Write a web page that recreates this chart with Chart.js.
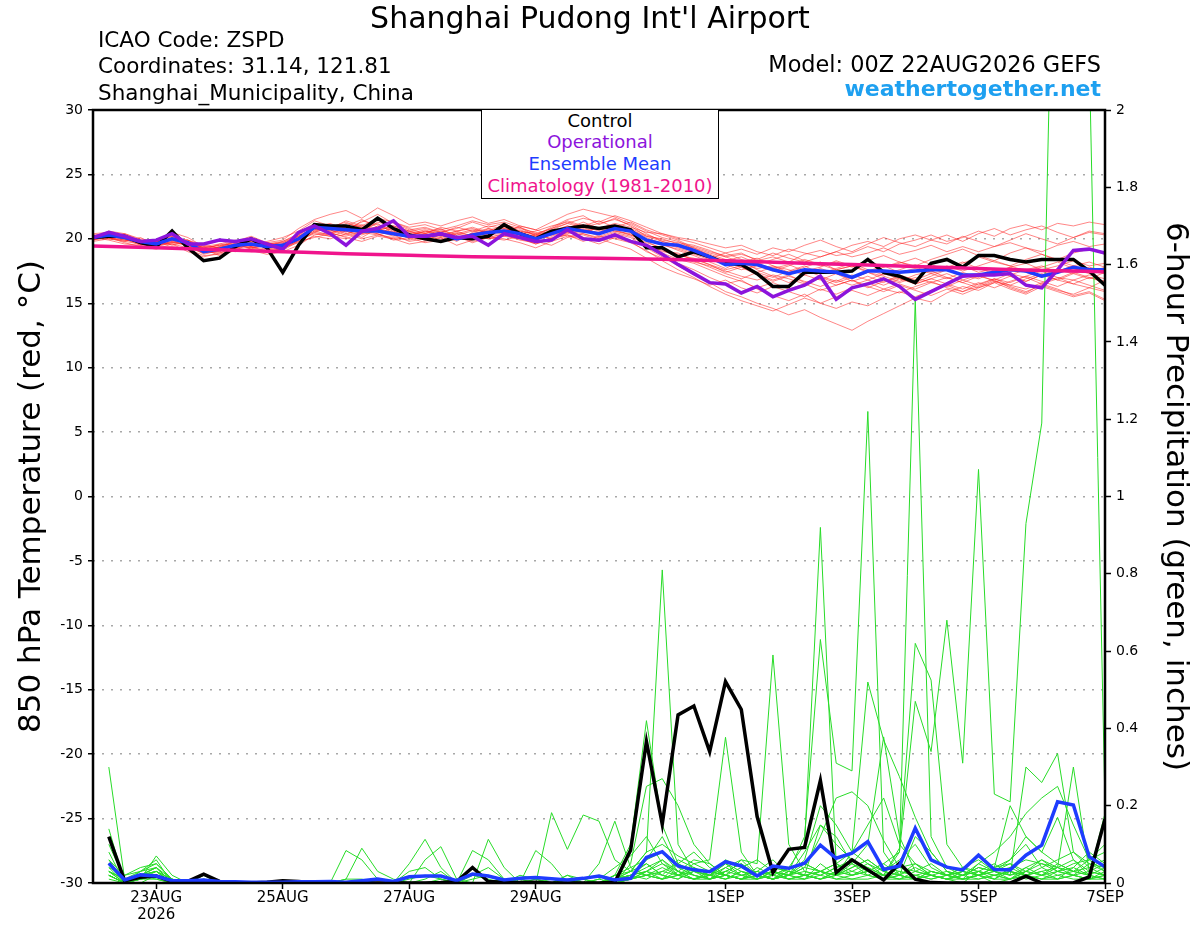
<!DOCTYPE html>
<html>
<head>
<meta charset="utf-8">
<script src="https://cdn.jsdelivr.net/npm/chart.js@4/dist/chart.umd.min.js"></script>
<style>
  html, body { margin: 0; padding: 0; background: #fff; overflow: hidden; }
  #wrap { position: relative; width: 1200px; height: 927px; font-family: 'DejaVu Sans', sans-serif; }
  #chart { position: absolute; left: 0; top: 0; }
  .txt { position: absolute; line-height: 1; white-space: nowrap; color: #000; }
  #legendBox {
    position: absolute; left: 481px; top: 108.5px; width: 238px; height: 90px;
    box-sizing: border-box; border: 1.5px solid #000; background: #fff;
    text-align: center; font-size: 18px; line-height: 21.9px;
  }
</style>
</head>
<body>
<div id="wrap">
  <canvas id="chart" width="1200" height="927"></canvas>
  <div class="txt" style="left:590px; top:3px; font-size:30px; transform:translateX(-50%);">Shanghai Pudong Int'l Airport</div>
  <div class="txt" style="left:98px; top:28.5px; font-size:21.5px;">ICAO Code: ZSPD</div>
  <div class="txt" style="left:98px; top:55px; font-size:21.5px;">Coordinates: 31.14, 121.81</div>
  <div class="txt" style="left:98px; top:82px; font-size:21.5px;">Shanghai_Municipality, China</div>
  <div class="txt" style="right:99px; top:52.5px; font-size:22.4px;">Model: 00Z 22AUG2026 GEFS</div>
  <div class="txt" style="right:99px; top:77.5px; font-size:22px; font-weight:bold; color:#1ea0f0;">weathertogether.net</div>
  <div id="legendBox">
    <div style="color:#000">Control</div>
    <div style="color:#8c14dc">Operational</div>
    <div style="color:#1e3cff">Ensemble Mean</div>
    <div style="color:#f0148c">Climatology (1981-2010)</div>
  </div>
</div>
<script>
// forecast hours from 00Z 22AUG2026
const fcstHours = [0,6,12,18,24,30,36,42,48,54,60,66,72,78,84,90,96,102,108,114,120,126,132,138,144,150,156,162,168,174,180,186,192,198,204,210,216,222,228,234,240,246,252,258,264,270,276,282,288,294,300,306,312,318,324,330,336,342,348,354,360,366,372,378,384];
const precipHours = fcstHours.slice(1);
const climHours = [0,24,48,72,96,120,144,168,192,216,240,264,288,312,336,360,384];

const tickHours = [24,72,120,168,240,288,336,384];
const tickLabels = [['23AUG','2026'],'25AUG','27AUG','29AUG','1SEP','3SEP','5SEP','7SEP'];
const tempTicks = [-30,-25,-20,-15,-10,-5,0,5,10,15,20,25,30];
const precipTicks = [0,0.2,0.4,0.6,0.8,1,1.2,1.4,1.6,1.8,2];

// 850 hPa temperature (C)
const control850 = [20.1,20.2,20.2,19.7,19.4,20.6,19.3,18.3,18.5,19.4,20.0,19.3,17.4,19.5,21.1,21.0,21.0,20.7,21.6,20.8,20.3,20.0,19.8,20.1,20.0,20.2,21.1,20.4,20.0,20.6,20.8,21.0,20.8,21.0,20.7,19.3,19.3,18.6,19.0,18.6,18.1,18.0,17.3,16.3,16.3,17.4,17.4,17.4,17.5,18.4,17.4,17.1,16.6,18.1,18.4,17.8,18.7,18.7,18.4,18.2,18.4,18.4,18.4,17.5,16.4];
const operational850 = [20.1,20.5,20.2,19.8,19.9,20.4,19.6,19.6,19.9,19.8,20.0,19.6,19.2,20.5,21.0,20.4,19.5,20.6,20.8,21.4,20.2,20.2,20.4,20.1,20.2,19.5,20.4,20.1,19.8,19.9,20.7,20.0,19.9,20.3,19.8,19.5,18.8,18.0,17.3,16.6,16.5,15.8,16.3,15.5,16.0,16.4,17.1,15.3,16.2,16.5,16.9,16.3,15.3,15.9,16.5,17.1,17.2,17.2,17.3,16.4,16.2,17.6,19.1,19.2,18.9];
const ensMean850 = [20.1,20.3,20.1,19.8,19.6,20.0,19.7,19.0,19.2,19.5,19.6,19.4,19.5,20.0,20.9,20.8,20.7,20.6,20.6,20.4,20.2,20.2,20.4,20.0,20.3,20.5,20.6,20.4,20.0,20.4,20.8,20.6,20.4,20.8,20.6,19.9,19.6,19.5,19.1,18.6,18.0,18.1,18.0,17.6,17.3,17.6,17.5,17.4,17.0,17.5,17.5,17.4,17.5,17.6,17.6,17.2,17.2,17.4,17.6,17.5,17.1,17.4,17.8,17.6,17.6];
const climatology850 = [19.45,19.3,19.15,19.0,18.85,18.72,18.6,18.55,18.5,18.42,18.3,18.15,18.0,17.85,17.7,17.55,17.45];

const members850 = [
  [20.2,20.5,20.0,19.6,19.9,20.3,19.5,19.1,19.6,19.9,19.4,19.8,20.1, 20.6,21.4,21.0,20.8,21.3,21.9,21.2,20.7,20.9,20.5,20.8,21.3,20.9, 21.2,20.6,20.3,20.9,21.5,21.8,21.1,21.6,21.0,20.2,20.0,19.6,19.4, 19.0,18.7,18.9,18.3,18.6,18.2,18.8,19.1,18.7,18.9,19.4,19.0,19.6, 19.9,20.3,19.8,20.1,20.6,20.2,20.8,21.1,20.7,21.2,21.0,21.3,21.1],
  [20.0,20.1,19.7,19.4,19.2,19.6,19.0,18.6,18.9,19.3,19.1,18.8,19.0, 19.5,20.3,20.5,20.1,19.8,20.2,20.0,19.6,19.8,20.1,19.5,19.9,20.2, 20.0,19.7,19.3,19.8,20.2,20.0,19.6,20.1,19.8,19.0,18.5,18.1,17.6, 17.0,16.5,16.8,16.1,15.6,15.2,15.7,15.0,14.6,15.1,14.8,15.4,15.9, 15.5,16.0,16.4,15.9,16.3,16.8,16.2,15.8,16.5,16.1,15.6,15.9,15.3],
  [20.3,20.0,19.8,20.1,19.5,19.8,19.9,19.2,18.7,19.1,19.7,19.3,19.1, 19.8,20.5,20.2,20.6,20.1,20.8,20.3,19.8,20.0,20.6,20.2,19.7,20.1, 20.4,20.1,19.6,20.0,20.5,20.3,19.9,20.4,20.1,19.3,18.6,17.9,17.2, 16.6,15.9,15.5,15.0,14.6,14.1,14.5,13.9,13.4,12.9,13.6,14.2,14.8, 15.4,15.1,15.8,16.3,16.0,16.6,17.1,16.7,17.2,17.6,17.3,17.8,17.5],
  [20.1,20.6,20.4,19.9,19.7,20.5,20.1,19.4,19.3,19.8,20.2,19.7,19.9, 20.8,21.5,21.9,22.2,21.6,22.4,21.8,21.1,21.3,21.0,21.4,21.7,21.2, 21.5,21.0,20.7,21.3,21.9,22.3,22.0,21.7,21.2,20.6,20.1,19.8,19.2, 18.8,18.4,18.1,17.7,17.9,17.4,17.8,18.2,17.6,17.9,18.3,17.8,18.1, 18.5,18.0,17.6,18.1,18.6,18.2,17.9,18.4,18.8,18.3,17.9,18.2,17.8],
  [19.9,20.2,20.3,19.7,19.8,19.9,19.4,18.9,19.0,19.6,19.4,19.2,19.6, 20.2,20.7,20.6,21.2,20.9,20.5,20.8,20.4,20.1,20.3,19.8,20.5,20.8, 20.6,20.9,20.2,20.7,21.2,20.8,20.4,21.0,20.8,20.3,19.9,19.7,19.5, 19.1,18.6,18.2,18.5,17.9,17.6,17.2,17.7,17.3,16.9,17.4,17.1,16.7, 17.2,17.5,17.0,16.6,17.1,16.8,17.3,17.0,16.5,16.9,17.4,17.0,16.7],
  [20.0,20.4,20.2,19.8,19.4,20.1,19.8,19.3,19.5,19.2,19.8,19.5,19.3, 20.1,20.9,21.2,20.7,20.4,21.0,20.6,20.0,20.4,20.7,20.3,20.6,21.0, 20.8,20.5,20.1,20.6,20.9,21.1,20.7,20.9,21.3,20.7,20.3,19.9,19.3, 18.7,18.1,17.8,17.3,16.8,17.2,16.6,16.9,16.4,16.8,16.2,16.7,17.0, 16.5,16.9,17.3,16.8,16.4,16.9,16.6,17.1,17.5,17.0,16.8,17.2,16.9],
  [20.2,20.3,19.9,19.9,19.6,19.7,19.6,19.0,19.4,19.7,19.5,19.6,19.8, 20.4,21.0,20.6,20.9,21.1,20.8,20.5,20.6,20.2,20.0,20.4,20.7,20.5, 20.9,20.3,20.0,20.5,21.0,20.6,20.8,21.2,20.9,20.5,20.4,20.1,19.9, 19.6,19.3,19.5,19.0,18.7,19.2,18.9,18.6,19.0,19.5,19.8,19.4,20.0, 20.3,19.9,19.6,20.2,19.8,19.4,19.9,20.4,20.0,19.6,20.1,20.5,20.3],
  [20.1,19.9,19.6,19.5,19.3,19.4,19.2,18.7,18.8,19.2,19.0,19.1,19.4, 19.8,20.1,20.4,20.2,20.6,20.4,19.9,20.1,19.7,19.9,20.2,19.8,20.1, 19.9,20.2,19.8,19.5,20.1,20.4,20.0,19.6,19.2,18.5,17.8,17.3,16.9, 16.4,16.8,16.2,15.8,16.3,15.9,15.5,16.1,15.7,16.2,16.6,16.1,15.8, 16.3,16.7,16.2,15.9,16.5,16.9,16.4,16.1,16.6,17.0,16.5,16.2,16.8],
  [20.4,20.5,20.2,19.6,19.9,20.2,19.7,19.3,19.1,19.4,19.9,19.6,19.7, 20.3,20.8,21.1,20.5,21.4,21.1,20.7,20.3,20.5,20.8,20.1,20.4,20.6, 21.1,20.8,20.5,20.2,20.6,21.0,21.4,20.9,20.6,19.8,19.2,18.8,18.4, 18.0,17.6,17.9,17.4,17.0,17.5,17.9,17.3,17.7,18.1,17.6,17.2,17.6, 18.0,17.5,17.8,18.2,17.7,17.3,17.8,18.1,17.6,17.9,18.3,17.9,18.1],
  [19.8,20.0,20.1,19.6,19.5,19.8,19.5,18.8,19.1,19.5,19.3,19.1,19.2, 19.9,20.6,20.3,20.9,20.4,20.7,20.9,20.5,20.3,20.1,20.5,20.2,20.4, 20.2,20.6,20.4,20.0,20.4,20.7,20.2,20.6,20.4,19.6,19.0,18.9,18.3, 17.8,17.3,16.9,17.4,17.8,17.3,17.6,17.1,16.7,17.2,16.8,16.4,16.9, 16.6,17.1,17.6,17.2,16.9,17.4,17.8,17.4,17.0,17.5,17.9,17.5,17.3],
  [20.0,20.2,20.4,20.0,19.8,20.0,19.9,19.5,19.3,19.6,19.5,19.4,19.6, 20.0,20.6,20.9,21.3,20.8,21.2,20.4,20.2,20.6,20.4,20.0,20.3,20.7, 20.5,20.1,20.3,20.8,21.4,21.0,20.6,20.8,20.5,20.0,19.7,19.3,18.9, 18.5,18.9,18.4,18.0,18.4,18.8,18.3,17.9,18.2,17.8,18.3,18.7,18.2, 17.9,18.4,18.8,19.2,18.7,18.3,18.9,19.3,18.8,18.4,18.9,19.2,18.8],
  [20.2,20.1,19.9,19.7,19.5,19.6,19.3,18.9,19.2,19.0,19.3,19.5,19.3, 19.7,20.2,20.0,20.4,20.0,20.3,20.1,19.9,20.2,19.8,20.0,20.4,20.0, 20.3,19.9,19.7,20.1,20.3,19.8,20.2,20.0,19.7,19.1,18.3,17.6,17.0, 16.3,15.7,15.2,14.8,14.4,14.9,15.4,15.0,15.5,16.0,15.6,16.1,16.5, 16.1,16.6,17.0,16.6,16.2,16.7,16.3,15.9,16.4,16.0,15.7,16.2,15.9],
  [20.3,20.4,20.1,19.8,19.7,20.2,19.6,19.1,19.4,19.8,19.6,19.3,19.5, 20.1,20.8,20.7,20.3,20.9,20.6,20.2,20.4,20.7,20.3,20.6,20.9,20.5, 20.8,20.4,20.6,21.0,21.3,20.9,21.2,21.5,21.1,20.4,19.8,19.4,19.0, 18.7,18.3,18.6,18.1,17.7,18.0,17.5,17.8,18.3,17.9,17.4,17.8,18.2, 17.8,17.4,17.9,17.5,17.9,18.3,17.9,17.5,17.8,18.2,17.7,17.4,17.8],
  [19.9,20.3,20.0,19.5,19.9,19.5,19.8,19.2,19.0,19.7,19.2,19.7,19.4, 20.5,21.2,20.4,21.0,21.5,20.9,21.3,20.8,20.4,20.9,20.6,20.2,20.8, 20.4,21.0,20.7,20.3,20.8,21.3,20.8,21.1,20.7,20.1,19.6,19.1,18.7, 18.2,17.7,18.3,17.6,17.1,16.6,17.2,16.8,17.3,16.7,17.1,16.6,17.2, 16.8,17.3,16.9,17.4,17.0,17.6,17.1,16.7,17.2,16.8,17.3,16.9,17.4],
  [20.1,20.2,20.0,19.9,19.6,19.9,19.7,19.4,19.6,19.5,19.7,19.5,19.7, 20.2,20.7,21.0,20.8,20.5,21.3,21.0,20.6,20.8,20.5,20.9,20.6,20.3, 20.7,20.3,20.1,20.4,20.7,20.5,20.9,20.6,20.3,19.9,19.5,19.2,18.8, 18.4,18.0,17.6,17.9,17.5,17.9,18.4,18.0,17.6,17.9,17.5,17.9,17.4, 17.7,17.3,17.6,17.9,17.4,17.7,17.2,17.6,17.9,17.4,17.7,17.3,17.5],
  [20.2,20.4,20.3,19.8,19.7,20.1,19.6,19.2,19.3,19.6,19.8,19.4,19.8, 20.3,21.1,20.8,21.4,21.0,21.6,21.3,20.9,21.1,20.7,21.0,21.4,21.1, 21.3,20.9,20.4,20.8,21.2,21.6,21.3,21.8,21.4,20.9,20.4,20.0,19.7, 19.3,18.9,19.2,18.8,19.3,19.0,19.5,19.9,19.4,19.0,19.6,20.1,19.7, 19.4,19.9,20.3,19.8,20.4,20.8,20.3,20.7,21.0,20.5,20.1,20.6,20.4],
  [19.9,20.1,19.8,19.6,19.4,19.7,19.5,19.0,18.9,19.3,19.4,19.0,19.2, 19.9,20.4,20.2,20.0,20.5,20.3,20.6,20.2,19.9,20.3,20.0,20.3,20.0, 20.2,20.0,19.6,20.0,20.3,20.1,19.8,20.2,19.9,19.4,18.9,18.4,18.1, 17.6,17.1,16.7,16.2,16.6,16.1,16.5,16.0,16.4,16.8,16.3,15.9,16.4, 16.0,15.6,16.1,15.7,16.2,16.6,16.1,15.7,16.3,15.9,15.5,15.8,15.2],
  [20.1,20.3,20.2,19.7,19.6,20.0,19.6,19.1,19.3,19.4,19.6,19.5,19.5, 20.0,20.9,20.5,20.6,20.3,20.7,20.4,20.1,20.3,20.5,20.1,20.4,20.6, 20.6,20.2,19.9,20.3,20.6,20.4,20.1,20.5,20.2,19.5,19.1,18.6,18.2, 17.9,17.5,17.1,16.8,17.2,16.9,16.5,17.0,16.6,17.0,17.4,16.9,16.6, 17.0,16.6,16.3,16.8,17.2,16.7,16.4,16.9,17.3,16.8,16.5,17.0,16.6],
  [20.0,20.2,20.1,19.8,19.8,20.0,19.9,19.3,19.5,19.8,19.6,19.3,19.6, 20.2,20.8,20.5,20.8,21.0,20.7,21.0,20.6,20.4,20.2,20.6,20.8,20.4, 20.7,20.5,20.2,20.6,21.0,20.7,20.5,20.9,20.7,20.2,19.8,19.5,19.3, 18.9,18.6,18.8,18.4,18.9,18.5,18.2,18.6,19.0,18.6,18.9,19.3,18.8, 19.1,19.5,19.0,19.4,19.0,19.4,19.7,19.3,19.0,19.5,19.8,19.4,19.6],
  [20.3,20.0,19.9,19.8,19.5,19.7,19.8,19.0,19.1,19.5,19.3,19.7,19.4, 19.9,20.5,20.9,20.4,20.7,20.4,20.0,20.3,20.6,20.2,20.4,20.1,20.5, 20.4,20.7,20.3,20.0,20.5,20.9,20.4,20.7,20.3,19.7,19.3,18.7,18.5, 18.0,17.4,17.8,17.2,16.7,17.1,16.7,16.3,16.8,16.4,16.8,17.3,16.9, 16.5,16.9,16.5,16.1,16.6,16.2,16.7,17.1,16.7,16.3,16.8,16.4,16.0]
];

// 6-hour precipitation (inches), from 06Z 22AUG
const controlPrecip = [.12,.006,.015,.018,.004,.004,.023,.004,.001,0, .002,.006,.004,0,0,0,0,0,0,0, 0,.001,.004,.04,.004,.002,.001,.002,0,0, 0,0,.002,.085,.366,.152,.435,.458,.34,.521, .449,.172,.027,.087,.092,.265,.027,.06,.034,.008, .051,.01,.001,0,0,0,0,0,.018,0, 0,0,.016,.165];
const ensMeanPrecip = [.051,.008,.021,.018,.006,.006,.008,.004,.003,.002, .002,.002,.003,.003,.004,.002,.006,.010,.004,.016, .018,.018,.006,.023,.018,.008,.012,.014,.011,.008, .012,.018,.008,.012,.066,.081,.044,.034,.029,.055, .044,.018,.044,.038,.051,.098,.064,.077,.107,.035, .044,.142,.06,.041,.034,.072,.035,.034,.072,.098, .21,.202,.068,.042];

const membersPrecip = [
  [.30,.01,.03,.05,.01,0,.01,0,0,0,0,0,0,0,0,0, 0,0,0,.01,.02,.01,0,.02,.01,0,0,.01,0,0,.01,.02, .01,.02,.04,.06,.03,.01,.02,.05,.03,.01,.02,.04,.10,.92,.05,.02, .03,.01,.02,.05,.02,.01,0,.03,.02,.01,.04,.06,.03,.02,.05,.03],
  [.14,0,.02,.04,0,0,.02,0,0,0,0,0,0,0,0,0, 0,0,0,0,.01,.03,0,.01,.02,0,.01,0,0,.02,0,.01, 0,.01,.03,.05,.02,.04,.01,.02,.06,.02,.01,.03,.12,.63,.31,.29, 1.22,.08,.02,.01,.03,.02,.01,.02,0,.01,.03,.02,.01,.04,.02,.01],
  [.10,.01,.01,.07,.02,0,0,0,0,0,0,0,0,0,0,0, 0,0,0,0,0,.01,0,0,0,.01,0,0,.01,0,0,0, .02,.10,.42,.15,.05,.02,.01,.03,.02,.01,.03,.02,.01,.05,.02,.08, .52,.37,.275,.17,.08,.03,.02,.01,.02,.03,.01,.02,.05,.03,.02,.04],
  [.08,0,.02,.03,.01,0,0,0,0,0,0,0,0,0,0,0, 0,0,0,.05,.113,.04,0,0,0,0,0,0,0,0,.01,0, .01,.03,.05,.02,.01,.04,.02,.05,.02,.03,.06,.02,.04,.03,.05,.03, .05,.02,.08,.47,.34,.68,.31,1.07,.23,.21,.93,1.19,3.0,2.9,2.15,.2],
  [.06,.02,.04,.05,.01,0,.01,0,0,0,0,0,0,0,0,.01, .01,0,0,0,.06,.094,.01,0,0,0,0,.01,0,0,0,0, 0,.05,.25,.27,.20,.10,.05,.02,.01,.03,.02,.04,.02,.01,.03,.02, .04,.02,.01,.03,.05,.02,.04,.06,.03,.02,.30,.26,.335,.08,.04,.02],
  [.05,0,.03,.06,0,0,0,0,0,0,0,0,0,0,0,0, 0,0,0,0,0,0,0,.084,.06,.01,0,0,0,.01,0,0, .01,.02,.03,.01,.02,.05,.06,.377,.08,.02,.01,.02,.03,.02,.04,.05, .10,.378,.12,.03,.02,.01,.02,.03,.01,.04,.02,.01,.03,.02,.01,.02],
  [.04,0,.01,.02,0,0,0,0,0,0,0,0,0,0,0,0, 0,0,0,0,0,0,0,0,.113,.04,0,.084,.05,0,0,0, .02,.01,.06,.08,.03,.02,.01,.04,.06,.05,.59,.10,.03,.02,.04,.06, .03,.05,.08,1.51,.12,.04,.02,.03,.05,.02,.03,.06,.04,.02,.03,.05],
  [.03,.01,.02,.03,0,0,0,0,0,0,0,0,0,0,0,.084, .06,.01,0,0,0,0,0,0,0,0,0,0,.182,.087,.176,.16, .06,.03,.08,.81,.10,.03,.02,.01,.03,.02,.01,.02,.05,.03,.02,.04, .06,.03,.02,.12,.08,.03,.02,.04,.03,.05,.02,.03,.04,.06,.03,.02],
  [.03,0,.02,.04,0,0,.02,0,0,0,0,0,0,0,0,.01, .09,.03,.01,0,0,0,0,0,0,0,0,0,0,0,0,.01, .04,.07,.12,.05,.03,.01,.02,.03,.05,.02,.04,.03,.02,.15,.10,.06, .04,.02,.09,.62,.525,.10,.04,.02,.03,.04,.06,.05,.03,.04,.08,.05],
  [.02,0,.01,.02,0,0,0,0,0,0,0,0,0,0,0,0, 0,0,0,.03,.04,.01,0,0,0,0,.01,0,0,.02,.01,0, 0,.01,.02,.03,.05,.08,.04,.02,.01,.02,.03,.01,.02,.03,.05,.08, .15,.22,.10,.05,.03,.02,.01,.05,.08,.12,.18,.22,.25,.15,.06,.03],
  [.02,0,.02,.01,0,0,0,0,0,0,0,0,0,0,0,0, 0,0,0,0,0,0,0,.02,.04,.01,0,0,0,0,0,0, .01,.02,.05,.02,.01,.03,.02,.06,.04,.02,.01,.03,.02,.01,.02,.03, .02,.01,.03,.02,.01,.02,.04,.03,.02,.01,.03,.05,.04,.30,.03,.02],
  [.03,.01,.01,.03,.01,0,0,0,0,0,0,0,0,0,0,0, 0,0,0,0,0,0,0,0,0,0,0,0,0,0,0,0, .01,.02,.01,.03,.02,.01,.02,.04,.02,.01,.03,.02,.04,.12,.22,.236, .20,.11,.04,.05,.02,.01,.02,.04,.03,.06,.10,.04,.02,.03,.06,.08],
  [.02,0,0,.02,0,0,0,0,0,0,0,0,0,0,0,0, 0,0,0,0,0,0,0,0,0,0,.02,.01,0,0,0,0, 0,.01,.03,.06,.02,.01,.01,.02,.01,.04,.02,.01,.02,.01,.03,.02, .03,.05,.02,.01,.02,.03,.01,.02,.04,.20,.12,.08,.17,.06,.02,.01],
  [.02,0,.01,.02,0,0,0,0,0,0,0,0,0,0,0,0, 0,0,0,0,0,0,0,0,0,0,0,0,0,0,0,0, .01,.03,.02,.01,.05,.03,.02,.01,.02,.03,.01,.02,.08,.15,.12,.05, .02,.01,.01,.02,.03,.02,.01,.01,.02,.03,.02,.01,.02,.01,.01,.02],
  [.01,0,.01,.01,0,0,0,0,0,0,0,0,0,0,0,0, 0,0,0,0,0,0,0,0,0,0,0,0,0,0,0,0, 0,.01,.02,.04,.02,.01,.03,.02,.01,.01,.02,.01,.01,.02,.01,.01, .01,.02,.01,.01,.02,.01,.01,.02,.01,.01,.02,.01,.01,.02,.01,.01],
  [.04,.02,.03,.04,.01,0,0,0,0,0,0,0,0,0,0,0, 0,0,0,0,0,0,0,0,0,0,0,0,0,0,0,0, .02,.04,.06,.12,.04,.02,.01,.03,.05,.02,.01,.02,.06,.20,.15,.08, .05,.03,.06,.10,.04,.02,.03,.02,.04,.06,.12,.08,.05,.03,.04,.06],
  [.05,.01,.02,.03,0,0,0,0,0,0,0,0,0,0,0,0, 0,0,0,0,0,0,0,0,0,0,0,0,0,0,0,.05, .16,.04,.02,.01,.03,.06,.05,.02,.01,.02,.04,.03,.02,.01,.02,.05, .03,.02,.04,.03,.02,.01,.02,.05,.03,.02,.04,.02,.03,.05,.06,.10],
  [.03,0,.01,.02,0,0,0,0,0,0,0,0,0,0,0,0, 0,0,0,0,0,0,0,0,0,0,0,0,0,0,0,0, .01,.02,.03,.02,.06,.04,.02,.01,.03,.02,.01,.04,.05,.03,.02,.01, .02,.04,.03,.02,.01,.02,.03,.02,.01,.03,.02,.04,.06,.08,.05,.04],
  [.02,0,.02,.03,0,0,0,0,0,0,0,0,0,0,0,0, 0,0,0,0,0,0,0,0,0,0,0,0,0,0,0,0, 0,.01,.02,.01,.02,.03,.01,.02,.01,.02,.03,.01,.02,.03,.01,.02, .03,.01,.02,.01,.03,.02,.01,.02,.03,.01,.02,.03,.01,.02,.01,.03],
  [.06,0,.02,.04,0,0,0,0,0,0,0,0,0,0,0,0, 0,0,0,0,0,0,0,0,0,0,0,0,0,0,0,0, .02,.03,.08,.10,.07,.05,.03,.02,.04,.06,.03,.02,.01,.03,.02,.04, .06,.03,.02,.04,.02,.01,.03,.02,.04,.05,.03,.02,.04,.03,.02,.18]
];

const xy = (hours, vals) => vals.map((v, i) => ({ x: hours[i], y: v }));

const line = (label, hours, vals, axis, color, width, extra) => ({
  label,
  data: xy(hours, vals),
  yAxisID: axis,
  borderColor: color,
  borderWidth: width,
  pointRadius: 0,
  fill: false,
  tension: 0,
  ...extra
});

// first dataset is drawn on top
const datasets = [
  line('Climatology (1981-2010)', climHours, climatology850, 'yT', '#f0148c', 3.5, { cubicInterpolationMode: 'monotone', tension: 0.4 }),
  line('Operational', fcstHours, operational850, 'yT', '#8c14dc', 3.5),
  line('Ensemble Mean', fcstHours, ensMean850, 'yT', '#1e3cff', 3.5),
  line('Control', fcstHours, control850, 'yT', '#000000', 3.5),
  line('Ensemble Mean precip', precipHours, ensMeanPrecip, 'yP', '#1e3cff', 3.5),
  line('Control precip', precipHours, controlPrecip, 'yP', '#000000', 3.5),
  ...membersPrecip.map((m, i) => line('precip member ' + (i + 1), precipHours, m, 'yP', 'rgb(40,220,40)', 1)),
  ...members850.map((m, i) => line('member ' + (i + 1), fcstHours, m, 'yT', 'rgba(255,30,30,0.6)', 0.9))
];

const framePlugin = {
  id: 'frame',
  afterDatasetsDraw(chart) {
    const { ctx, chartArea: a } = chart;
    ctx.save();
    ctx.strokeStyle = '#000';
    ctx.lineWidth = 2.5;
    ctx.strokeRect(a.left, a.top, a.right - a.left, a.bottom - a.top);
    ctx.restore();
  }
};

Chart.defaults.font.family = "'DejaVu Sans', sans-serif";
Chart.defaults.color = '#000';

new Chart(document.getElementById('chart'), {
  type: 'line',
  data: { datasets },
  plugins: [framePlugin],
  options: {
    responsive: false,
    animation: false,
    events: [],
    layout: { padding: { top: 110, left: 0, right: 0, bottom: 0 } },
    plugins: { legend: { display: false }, tooltip: { enabled: false } },
    scales: {
      x: {
        type: 'linear',
        min: 0,
        max: 384,
        afterBuildTicks: (scale) => { scale.ticks = tickHours.map(v => ({ value: v })); },
        afterFit: (scale) => { scale.height = 44; },
        ticks: {
          autoSkip: false,
          maxRotation: 0,
          padding: 1,
          font: { size: 15, lineHeight: 1.1 },
          callback: (value) => tickLabels[tickHours.indexOf(value)]
        },
        grid: { drawOnChartArea: false, tickLength: 6, tickColor: '#000', tickWidth: 1.5 },
        border: { display: false }
      },
      yT: {
        type: 'linear',
        position: 'left',
        min: -30,
        max: 30,
        afterBuildTicks: (scale) => { scale.ticks = tempTicks.map(v => ({ value: v })); },
        afterFit: (scale) => { scale.width = 93; },
        ticks: { padding: 5, font: { size: 14 } },
        grid: {
          color: (c) => (c.tick && Math.abs(c.tick.value) === 30) ? 'rgba(0,0,0,0)' : '#a8a8a8',
          lineWidth: 1.5,
          tickLength: 5,
          tickColor: '#000',
          tickWidth: 1.5
        },
        border: { display: false, dash: [2, 7] },
        title: {
          display: true,
          text: '850 hPa Temperature (red, °C)',
          font: { size: 31 },
          padding: { top: 13, bottom: 0 }
        }
      },
      yP: {
        type: 'linear',
        position: 'right',
        min: 0,
        max: 2,
        afterBuildTicks: (scale) => { scale.ticks = precipTicks.map(v => ({ value: v })); },
        afterFit: (scale) => { scale.width = 95; },
        ticks: {
          padding: 5,
          font: { size: 14 },
          callback: (value) => String(Math.round(value * 10) / 10)
        },
        grid: { drawOnChartArea: false, tickLength: 6, tickColor: '#000', tickWidth: 1.5 },
        border: { display: false },
        title: {
          display: true,
          text: '6-hour Precipitation (green, inches)',
          font: { size: 31 },
          padding: { top: 6, bottom: 0 }
        }
      }
    }
  }
});
</script>
</body>
</html>
